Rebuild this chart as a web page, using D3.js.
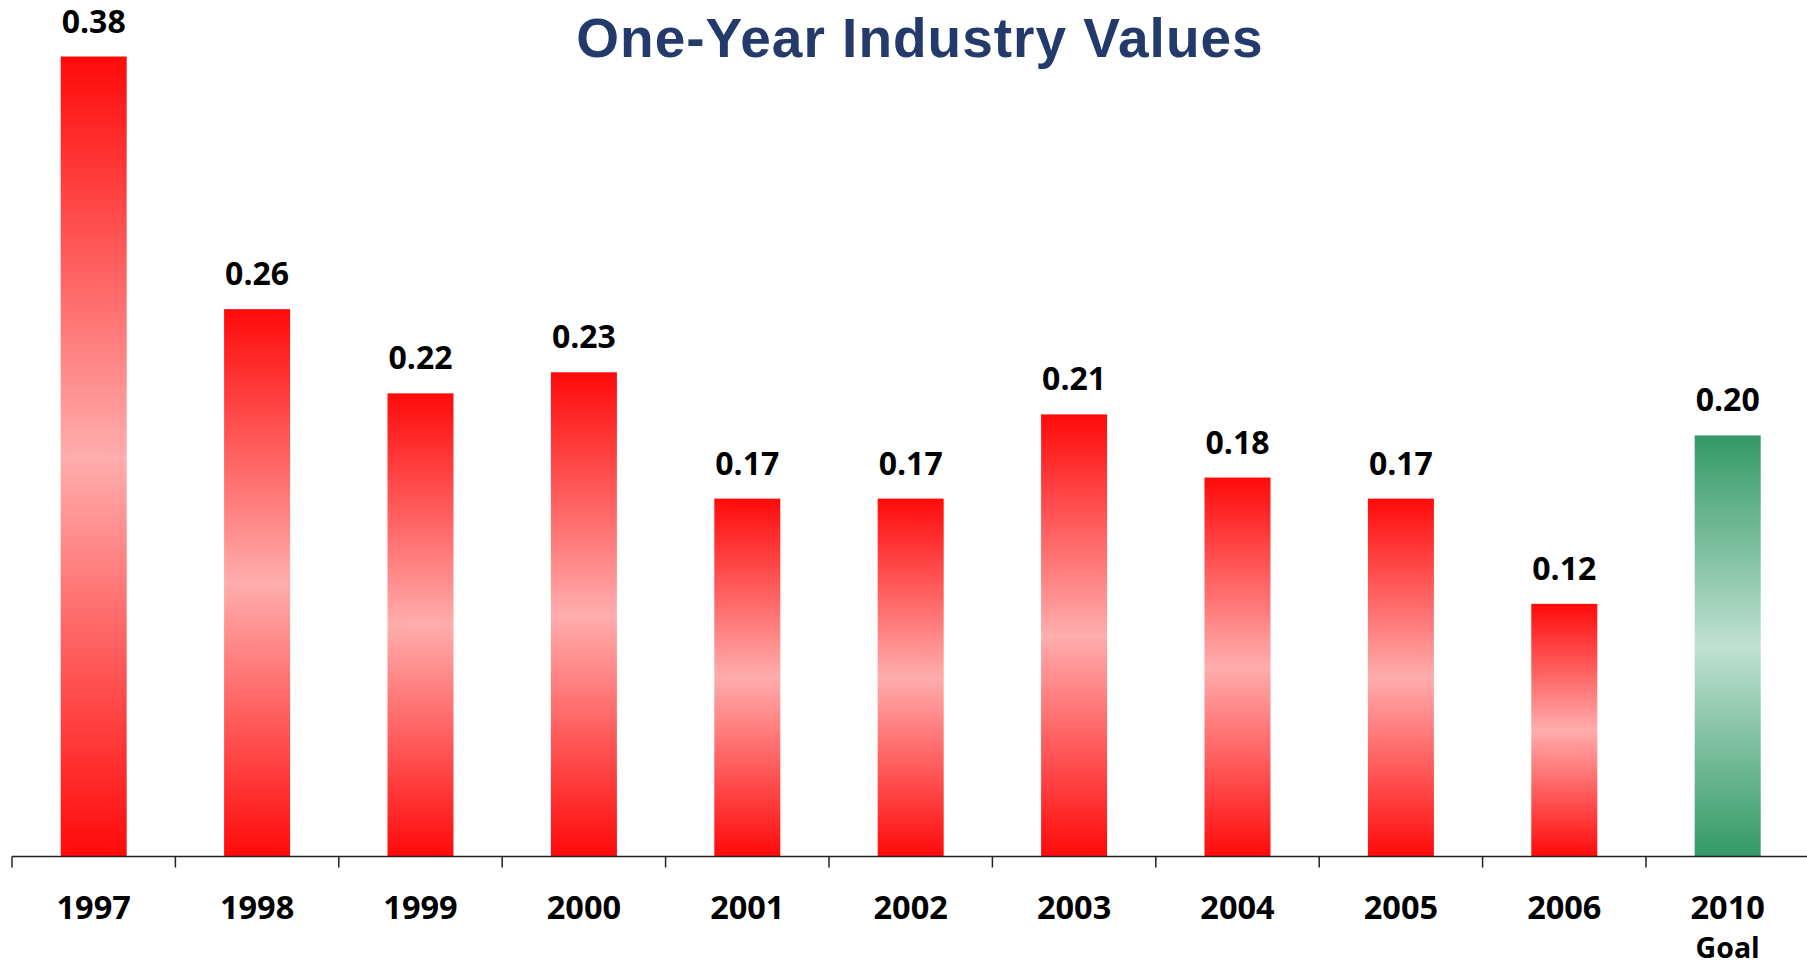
<!DOCTYPE html>
<html>
<head>
<meta charset="utf-8">
<script src="https://cdn.jsdelivr.net/npm/d3@7"></script>
<style>
  html, body { margin: 0; padding: 0; background: #fff; }
  svg { display: block; }
</style>
</head>
<body>
<svg id="chart" width="1807" height="965"></svg>
<script>
const categories = ["1997", "1998", "1999", "2000", "2001", "2002", "2003", "2004", "2005", "2006", "2010"];
const subLabels = ["", "", "", "", "", "", "", "", "", "", "Goal"];
const values = [0.38, 0.26, 0.22, 0.23, 0.17, 0.17, 0.21, 0.18, 0.17, 0.12, 0.20];
const valueLabels = ["0.38", "0.26", "0.22", "0.23", "0.17", "0.17", "0.21", "0.18", "0.17", "0.12", "0.20"];
const goalFlags = [false, false, false, false, false, false, false, false, false, false, true];
const titleText = "One-Year Industry Values";

const svg = d3.select("#chart");
const W = 1807, H = 965;
const left = 12, right = 1809.4, baseY = 856.5, topY = 56.5;

const x = d3.scaleBand().domain(categories).range([left, right]).padding(0);
const y = d3.scaleLinear().domain([0, 0.38]).range([baseY, topY]);
const barW = x.bandwidth() * 0.404;

const defs = svg.append("defs");
function grad(id, edge, mid) {
  const g = defs.append("linearGradient").attr("id", id)
    .attr("x1", 0).attr("y1", 0).attr("x2", 0).attr("y2", 1);
  g.append("stop").attr("offset", "0%").attr("stop-color", edge);
  g.append("stop").attr("offset", "50%").attr("stop-color", mid);
  g.append("stop").attr("offset", "100%").attr("stop-color", edge);
}
grad("gRed", "#FF0A0A", "#FFADAD");
grad("gGreen", "#339966", "#BFE0D2");

// Title
svg.append("text")
  .attr("x", 920).attr("y", 57)
  .attr("text-anchor", "middle")
  .attr("font-family", "'Liberation Sans', Arial, sans-serif")
  .attr("font-weight", "bold")
  .attr("font-size", 55)
  .attr("letter-spacing", 1)
  .attr("fill", "#233A6A")
  .text(titleText);

// Bars
const data = categories.map((c, i) => ({c, v: values[i], lab: valueLabels[i], goal: goalFlags[i], sub: subLabels[i]}));

svg.append("g").selectAll("rect").data(data).join("rect")
  .attr("x", d => x(d.c) + (x.bandwidth() - barW) / 2)
  .attr("y", d => y(d.v))
  .attr("width", barW)
  .attr("height", d => y(0) - y(d.v))
  .attr("fill", d => d.goal ? "url(#gGreen)" : "url(#gRed)");

// Value labels
svg.append("g").selectAll("text").data(data).join("text")
  .attr("x", d => x(d.c) + x.bandwidth() / 2)
  .attr("y", d => y(d.v) - 24)
  .attr("text-anchor", "middle")
  .attr("font-family", "'Open Sans', sans-serif")
  .attr("font-weight", "bold")
  .attr("font-size", 32)
  .attr("fill", "#000")
  .text(d => d.lab);

// Axis
const axisG = svg.append("g").attr("transform", `translate(0,${baseY})`);
axisG.append("line")
  .attr("x1", left).attr("x2", W)
  .attr("y1", 0).attr("y2", 0)
  .attr("stroke", "#222").attr("stroke-width", 1.5);
axisG.selectAll("line.tick").data(categories).join("line")
  .attr("class", "tick")
  .attr("x1", d => x(d)).attr("x2", d => x(d))
  .attr("y1", 0).attr("y2", 11)
  .attr("stroke", "#222").attr("stroke-width", 1.5);

// Category labels
const labelFont = {family: "'Open Sans', sans-serif", weight: "bold"};
svg.append("g").selectAll("text").data(data).join("text")
  .attr("x", d => x(d.c) + x.bandwidth() / 2)
  .attr("y", 918.5)
  .attr("text-anchor", "middle")
  .attr("font-family", labelFont.family)
  .attr("font-weight", labelFont.weight)
  .attr("font-size", 32.5)
  .attr("fill", "#000")
  .text(d => d.c);
svg.append("g").selectAll("text").data(data.filter(d => d.sub)).join("text")
  .attr("x", d => x(d.c) + x.bandwidth() / 2)
  .attr("y", 957.5)
  .attr("text-anchor", "middle")
  .attr("font-family", labelFont.family)
  .attr("font-weight", labelFont.weight)
  .attr("font-size", 28.5)
  .attr("fill", "#000")
  .text(d => d.sub);
</script>
</body>
</html>
